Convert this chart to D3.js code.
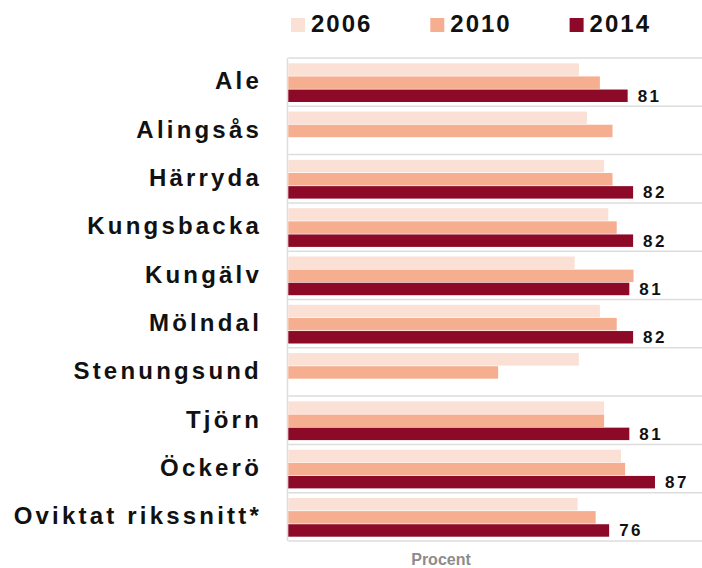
<!DOCTYPE html>
<html>
<head>
<meta charset="utf-8">
<script src="https://cdn.jsdelivr.net/npm/d3@7"></script>
<style>
  body { margin: 0; background: #fff; }
  text { font-family: "Liberation Sans", Arial, sans-serif; }
</style>
</head>
<body>
<div id="chart"></div>
<script>
// categories and series
const kommuner = ['Ale', 'Alingsås', 'Härryda', 'Kungsbacka', 'Kungälv', 'Mölndal',
  'Stenungsund', 'Tjörn', 'Öckerö', 'Oviktat rikssnitt*'];
const years = ['2006', '2010', '2014'];
const v2006 = [69.1, 71.0, 75.1, 76.1, 68.1, 74.1, 69.1, 75.1, 79.1, 68.8];
const v2010 = [74.1, 77.1, 77.1, 78.1, 82.1, 78.1, 49.9, 75.1, 80.1, 73.1];
const v2014 = [80.7, null, 82.0, 82.0, 81.1, 82.0, null, 81.1, 87.2, 76.3];
const axisTitle = 'Procent';

const width = 702, height = 568;
const colors = { '2006': '#FBE0D5', '2010': '#F6AE91', '2014': '#8C0A27' };

const rows = kommuner.map((k, i) => ({
  name: k,
  vals: [
    { year: '2006', v: v2006[i] },
    { year: '2010', v: v2010[i] },
    { year: '2014', v: v2014[i] }
  ]
}));

const svg = d3.select('#chart').append('svg')
  .attr('width', width).attr('height', height);

// scales
const x = d3.scaleLinear().domain([0, 100]).range([288.3, 708.8]);
const y0 = d3.scaleBand().domain(kommuner).range([58, 541]);
const y1 = d3.scaleBand().domain(years)
  .range([5.3, y0.bandwidth() - 4.3]).paddingInner(0.05);

// grid lines between categories
const bounds = kommuner.map(k => y0(k)).concat([y0.range()[1]]);
svg.append('g').selectAll('line').data(bounds).enter().append('line')
  .attr('x1', x(0)).attr('x2', width)
  .attr('y1', d => d).attr('y2', d => d)
  .attr('stroke', '#DDDDDD').attr('stroke-width', 1.5);

svg.append('line')
  .attr('x1', x(0) - 0.8).attr('x2', x(0) - 0.8)
  .attr('y1', y0.range()[0]).attr('y2', y0.range()[1])
  .attr('stroke', '#DDDDDD').attr('stroke-width', 1.5);

// category labels
svg.append('g').selectAll('text').data(kommuner).enter().append('text')
  .attr('x', 262)
  .attr('y', d => y0(d) + y0.bandwidth() / 2 + 1)
  .attr('dominant-baseline', 'middle')
  .attr('text-anchor', 'end')
  .style('font-size', '24px')
  .style('font-weight', 'bold')
  .style('letter-spacing', '3.2px')
  .style('fill', '#111')
  .text(d => d);

// bars
const groups = svg.append('g').selectAll('g').data(rows).enter().append('g')
  .attr('transform', d => `translate(0, ${y0(d.name)})`);

groups.selectAll('rect')
  .data(d => d.vals.filter(e => e.v != null))
  .enter().append('rect')
  .attr('x', x(0))
  .attr('y', d => y1(d.year))
  .attr('width', d => x(d.v) - x(0))
  .attr('height', y1.bandwidth())
  .attr('fill', d => colors[d.year]);

// value labels for 2014
groups.selectAll('text.val')
  .data(d => d.vals.filter(e => e.year === '2014' && e.v != null))
  .enter().append('text')
  .attr('class', 'val')
  .attr('x', d => x(d.v) + 10)
  .attr('y', d => y1(d.year) + y1.bandwidth() / 2 + 1.5)
  .attr('dominant-baseline', 'middle')
  .style('font-size', '17px')
  .style('font-weight', 'bold')
  .style('letter-spacing', '2.5px')
  .style('fill', '#111')
  .text(d => d3.format('.0f')(d.v));

// legend
const legend = svg.append('g').selectAll('g').data(years).enter().append('g')
  .attr('transform', (d, i) => `translate(${291 + i * 139.3}, 18)`);
legend.append('rect')
  .attr('width', 14).attr('height', 14)
  .attr('fill', d => colors[d]);
legend.append('text')
  .attr('x', 20).attr('y', 7.5)
  .attr('dominant-baseline', 'middle')
  .style('font-size', '24px')
  .style('font-weight', 'bold')
  .style('letter-spacing', '2px')
  .style('fill', '#111')
  .text(d => d);

// axis title
svg.append('text')
  .attr('x', 441).attr('y', 565)
  .attr('text-anchor', 'middle')
  .style('font-size', '16px')
  .style('font-weight', 'bold')
  .style('fill', '#8C8C8C')
  .text(axisTitle);
</script>
</body>
</html>
